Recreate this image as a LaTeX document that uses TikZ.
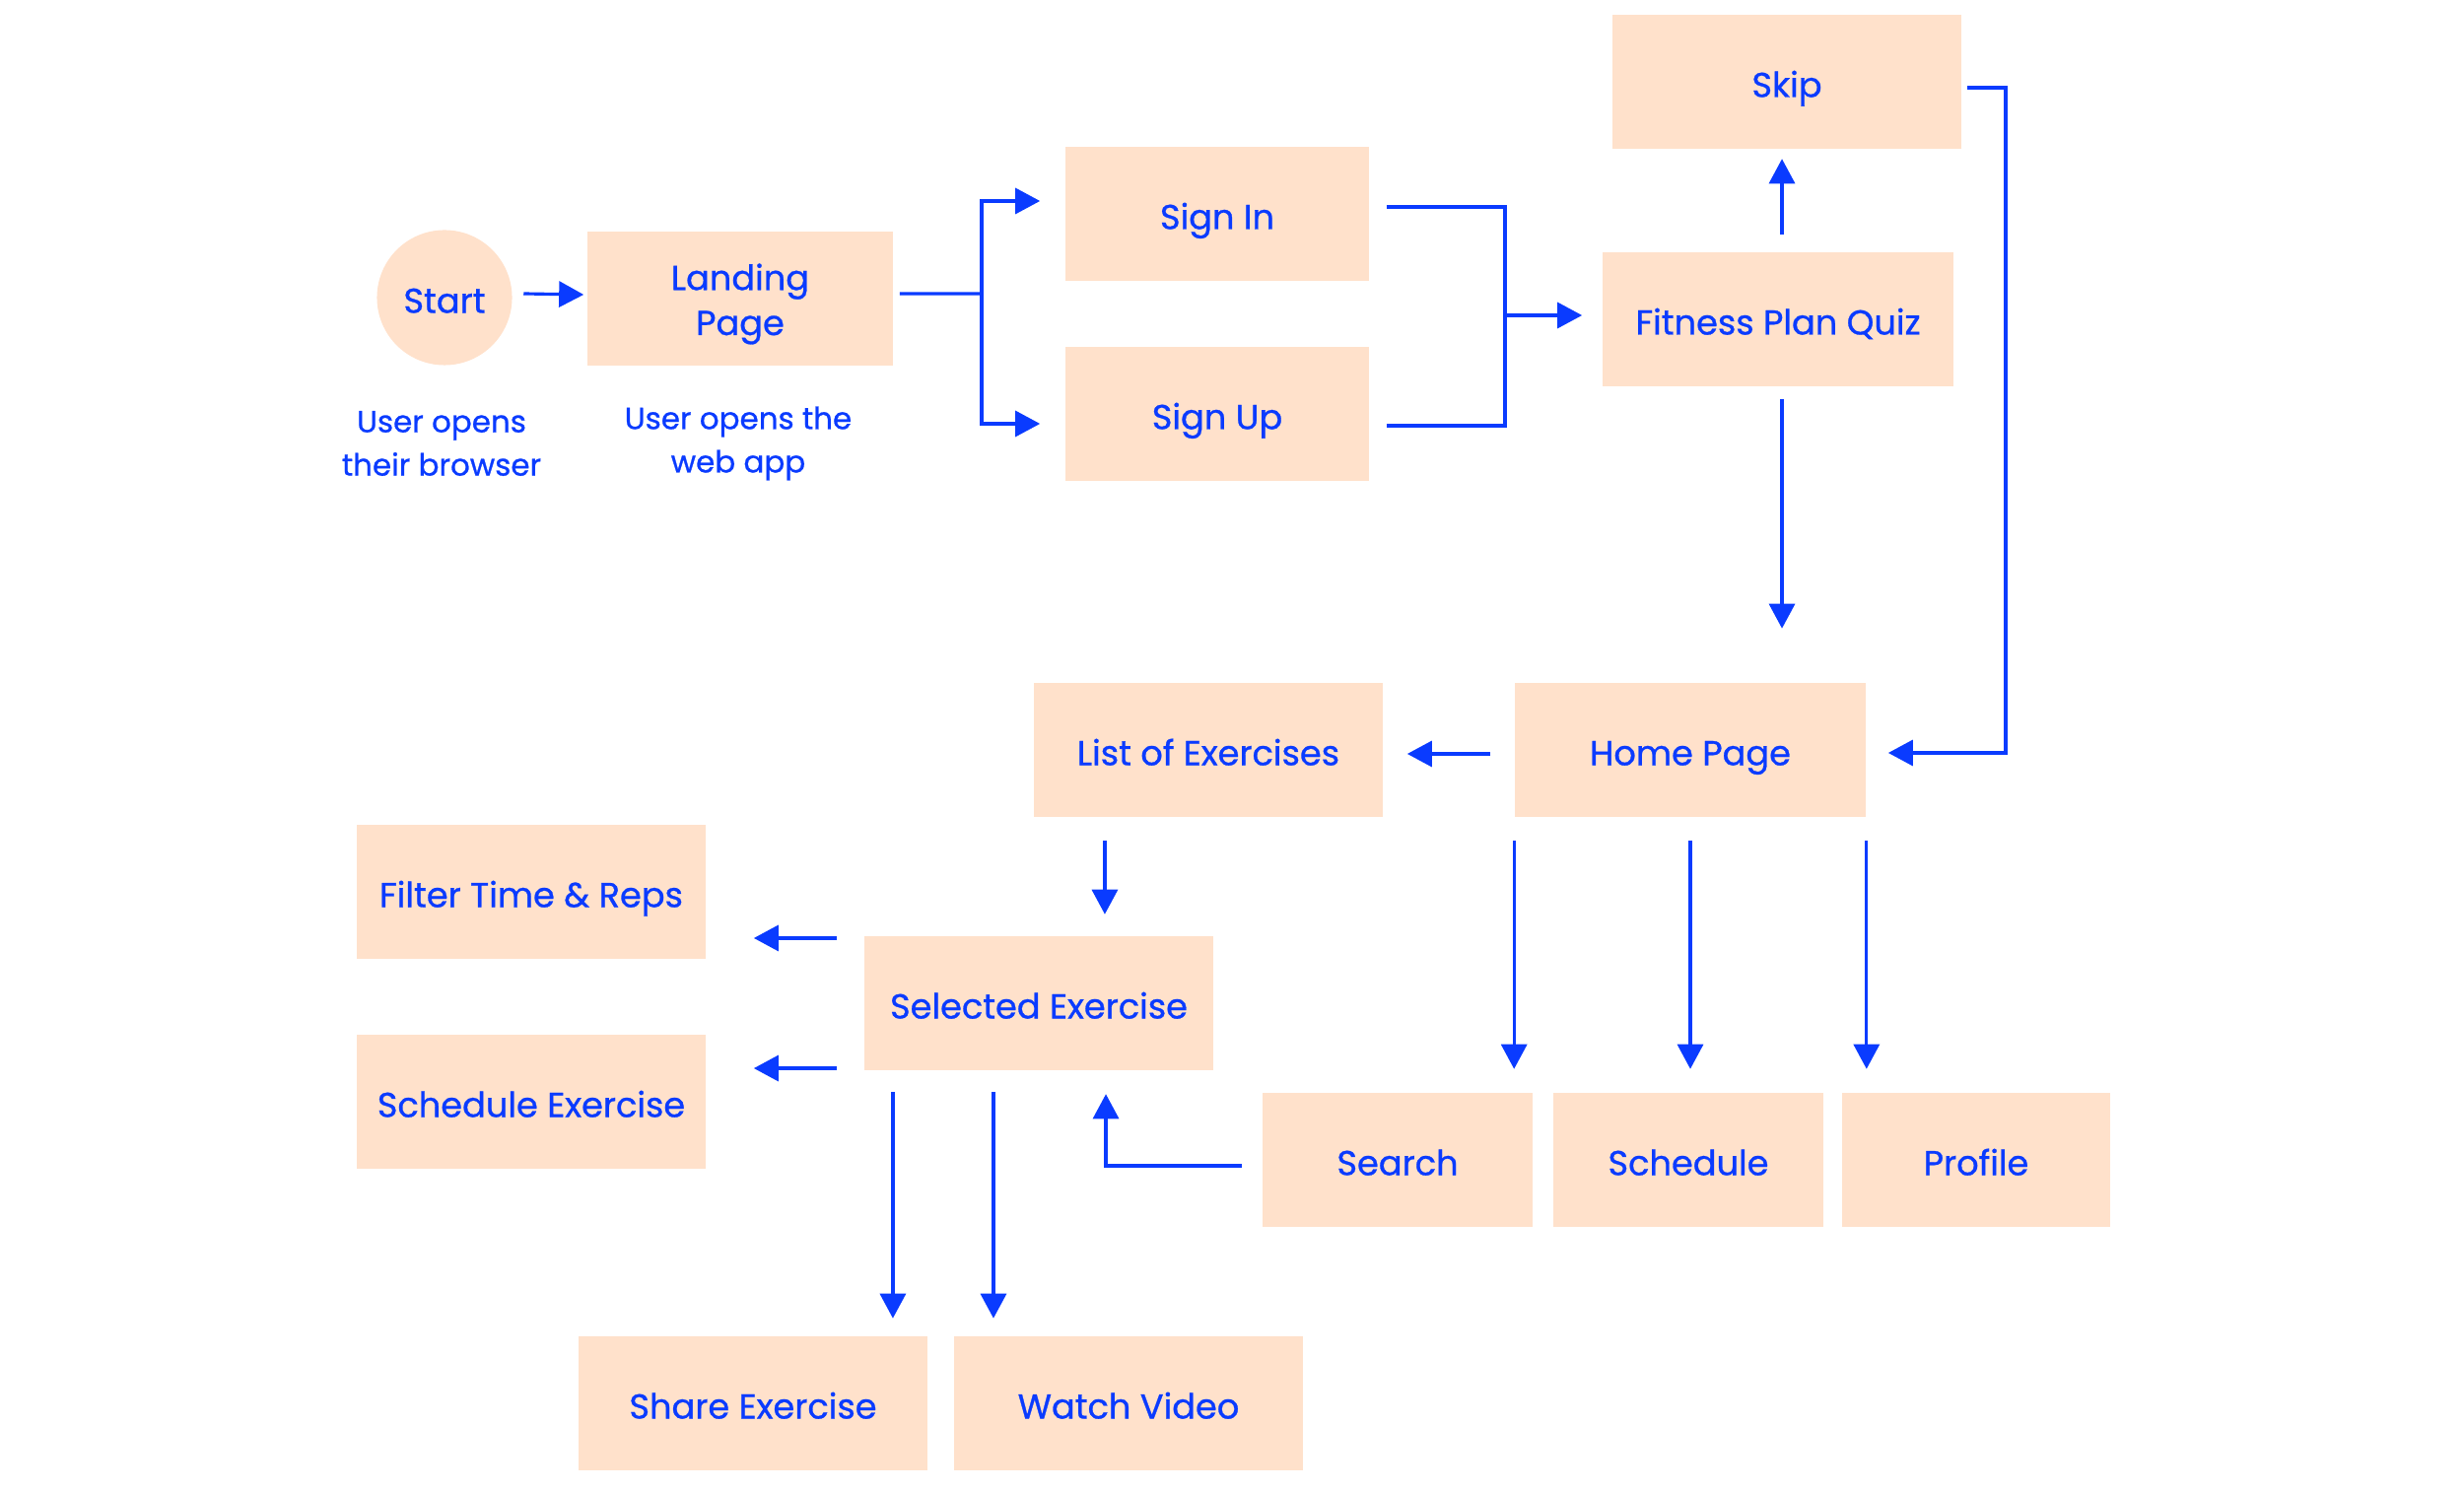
\documentclass[tikz,border=0pt]{standalone}
\usepackage{fontspec}
\setmainfont{Poppins}[FakeBold=0.8]
\usetikzlibrary{arrows.meta}
\usetikzlibrary{positioning}
\definecolor{peach}{HTML}{FFE1CB}
\definecolor{fblue}{HTML}{0A3BFF}
\tikzset{
	box/.style={fill=peach, text=fblue, minimum height=1.35cm, inner sep=0pt, text height=0.36cm, text depth=0.05cm, font=\fontsize{10}{13}\selectfont},
	note/.style={text=fblue, align=center, font=\fontsize{8.8}{12.5}\selectfont},
	line/.style={draw=fblue, line width=0.9pt},
	arr/.style={line, -{Triangle[length=0.25cm,width=0.26cm]}}
}
\begin{document}
\begin{tikzpicture}[x=0.01cm, y=-0.01cm]
				\useasboundingbox (0,0) rectangle (2500,1513);
				% boxes
				\node[box, circle, minimum size=1.37cm] (start) at (451,302) {Start};
				\node[box, minimum width=3.10cm, text height=, text depth=] (landing) at (751,303) {\raisebox{-0.05cm}[\height][\depth]{\begin{tabular}{@{}c@{}}Landing\\Page\end{tabular}}};
				\node[box, minimum width=3.08cm] (signin) at (1235,217) {Sign In};
				\node[box, minimum width=3.08cm] (signup) at (1235,420) {Sign Up};
				\node[box, minimum width=3.54cm] (skip) at (1813,83) {Skip};
				\node[box, minimum width=3.56cm] (quiz) at (1804,324) {Fitness Plan Quiz};
				\node[box, minimum width=3.56cm] (home) at (1715,761) {Home Page};
				\node[box, minimum width=3.54cm] (list) at (1226,761) {List of Exercises};
				\node[box, minimum width=3.54cm] (filter) at (539,905) {Filter Time \& Reps};
				\node[box, minimum width=3.54cm] (selected) at (1054,1018) {Selected Exercise};
				\node[box, minimum width=3.54cm] (schedex) at (539,1118) {Schedule Exercise};
				\node[box, minimum width=2.73cm] (search) at (1418,1177) {Search};
				\node[box, minimum width=2.73cm] (schedule) at (1713,1177) {Schedule};
				\node[box, minimum width=2.72cm] (profile) at (2005,1177) {Profile};
				\node[box, minimum width=3.54cm] (share) at (764,1424) {Share Exercise};
				\node[box, minimum width=3.54cm] (watch) at (1145,1424) {Watch Video};
				
				\node[note] (browser) at (448,450) {User opens\\their browser};
				\node[note] (webapp) at (749,450) {User opens the\\web app};
				
				\coordinate (fork) at (996,298);
				\coordinate (join) at (1527,320);
				
				% connectors
				\draw[arr] ([xshift=0.11cm,yshift=0.04cm]start.east) -- ([xshift=-0.03cm,yshift=0.04cm]landing.west);
				\draw[line] ([xshift=0.06cm,yshift=0.05cm]landing.east) -- (fork);
				\draw[arr] (fork) |- ([xshift=-0.25cm,yshift=0.13cm]signin.west);
				\draw[arr] (fork) |- ([xshift=-0.25cm,yshift=-0.10cm]signup.west);
				\draw[line] ([xshift=0.17cm,yshift=0.07cm]signin.east) -| (join);
				\draw[line] ([xshift=0.17cm,yshift=-0.12cm]signup.east) -| (join);
				\draw[arr] (join) -- ([xshift=-0.2cm]quiz.west |- join);
				\draw[arr] ([xshift=0.04cm,yshift=0.18cm]quiz.north) -- ([xshift=0.04cm,yshift=-0.1cm]quiz.north |- skip.south);
				\draw[arr] ([xshift=0.04cm,yshift=-0.13cm]quiz.south) -- ([xshift=0.04cm,yshift=0.55cm]quiz.south |- home.north);
				\draw[arr] ([xshift=0.05cm,yshift=-0.06cm]skip.east) -| ([xshift=1.41cm,yshift=-0.03cm]home.east) -- ([xshift=0.22cm,yshift=-0.03cm]home.east);
				\draw[arr] ([xshift=-0.24cm,yshift=-0.04cm]home.west) -- ([xshift=0.24cm,yshift=-0.04cm]list.east);
				\draw[arr] ([xshift=-1.05cm,yshift=-0.24cm]list.south) -- ([xshift=-1.05cm,yshift=0.22cm]list.south |- selected.north);
				\draw[arr] ([xshift=-0.27cm,yshift=0.66cm]selected.west) -- ([xshift=0.48cm,yshift=0.66cm]filter.east |- selected.west);
				\draw[arr] ([xshift=-0.27cm,yshift=-0.66cm]selected.west) -- ([xshift=0.48cm,yshift=-0.66cm]schedex.east |- selected.west);
				\draw[arr] ([xshift=-1.48cm,yshift=-0.22cm]selected.south) -- ([xshift=-1.48cm,yshift=0.18cm]selected.south |- share.north);
				\draw[arr] ([xshift=-0.46cm,yshift=-0.22cm]selected.south) -- ([xshift=-0.46cm,yshift=0.18cm]selected.south |- watch.north);
				\draw[arr] ([xshift=-0.21cm,yshift=-0.06cm]search.west) -| ([xshift=0.68cm,yshift=-0.24cm]selected.south);
				\draw[arr] ([yshift=-0.24cm]home.south west) -- ([yshift=0.24cm]home.south west |- search.north);
				\draw[arr] ([yshift=-0.24cm]home.south) -- ([yshift=0.24cm]home.south |- schedule.north);
				\draw[arr] ([yshift=-0.24cm]home.south east) -- ([yshift=0.24cm]home.south east |- profile.north);
			\end{tikzpicture}
\end{document}
